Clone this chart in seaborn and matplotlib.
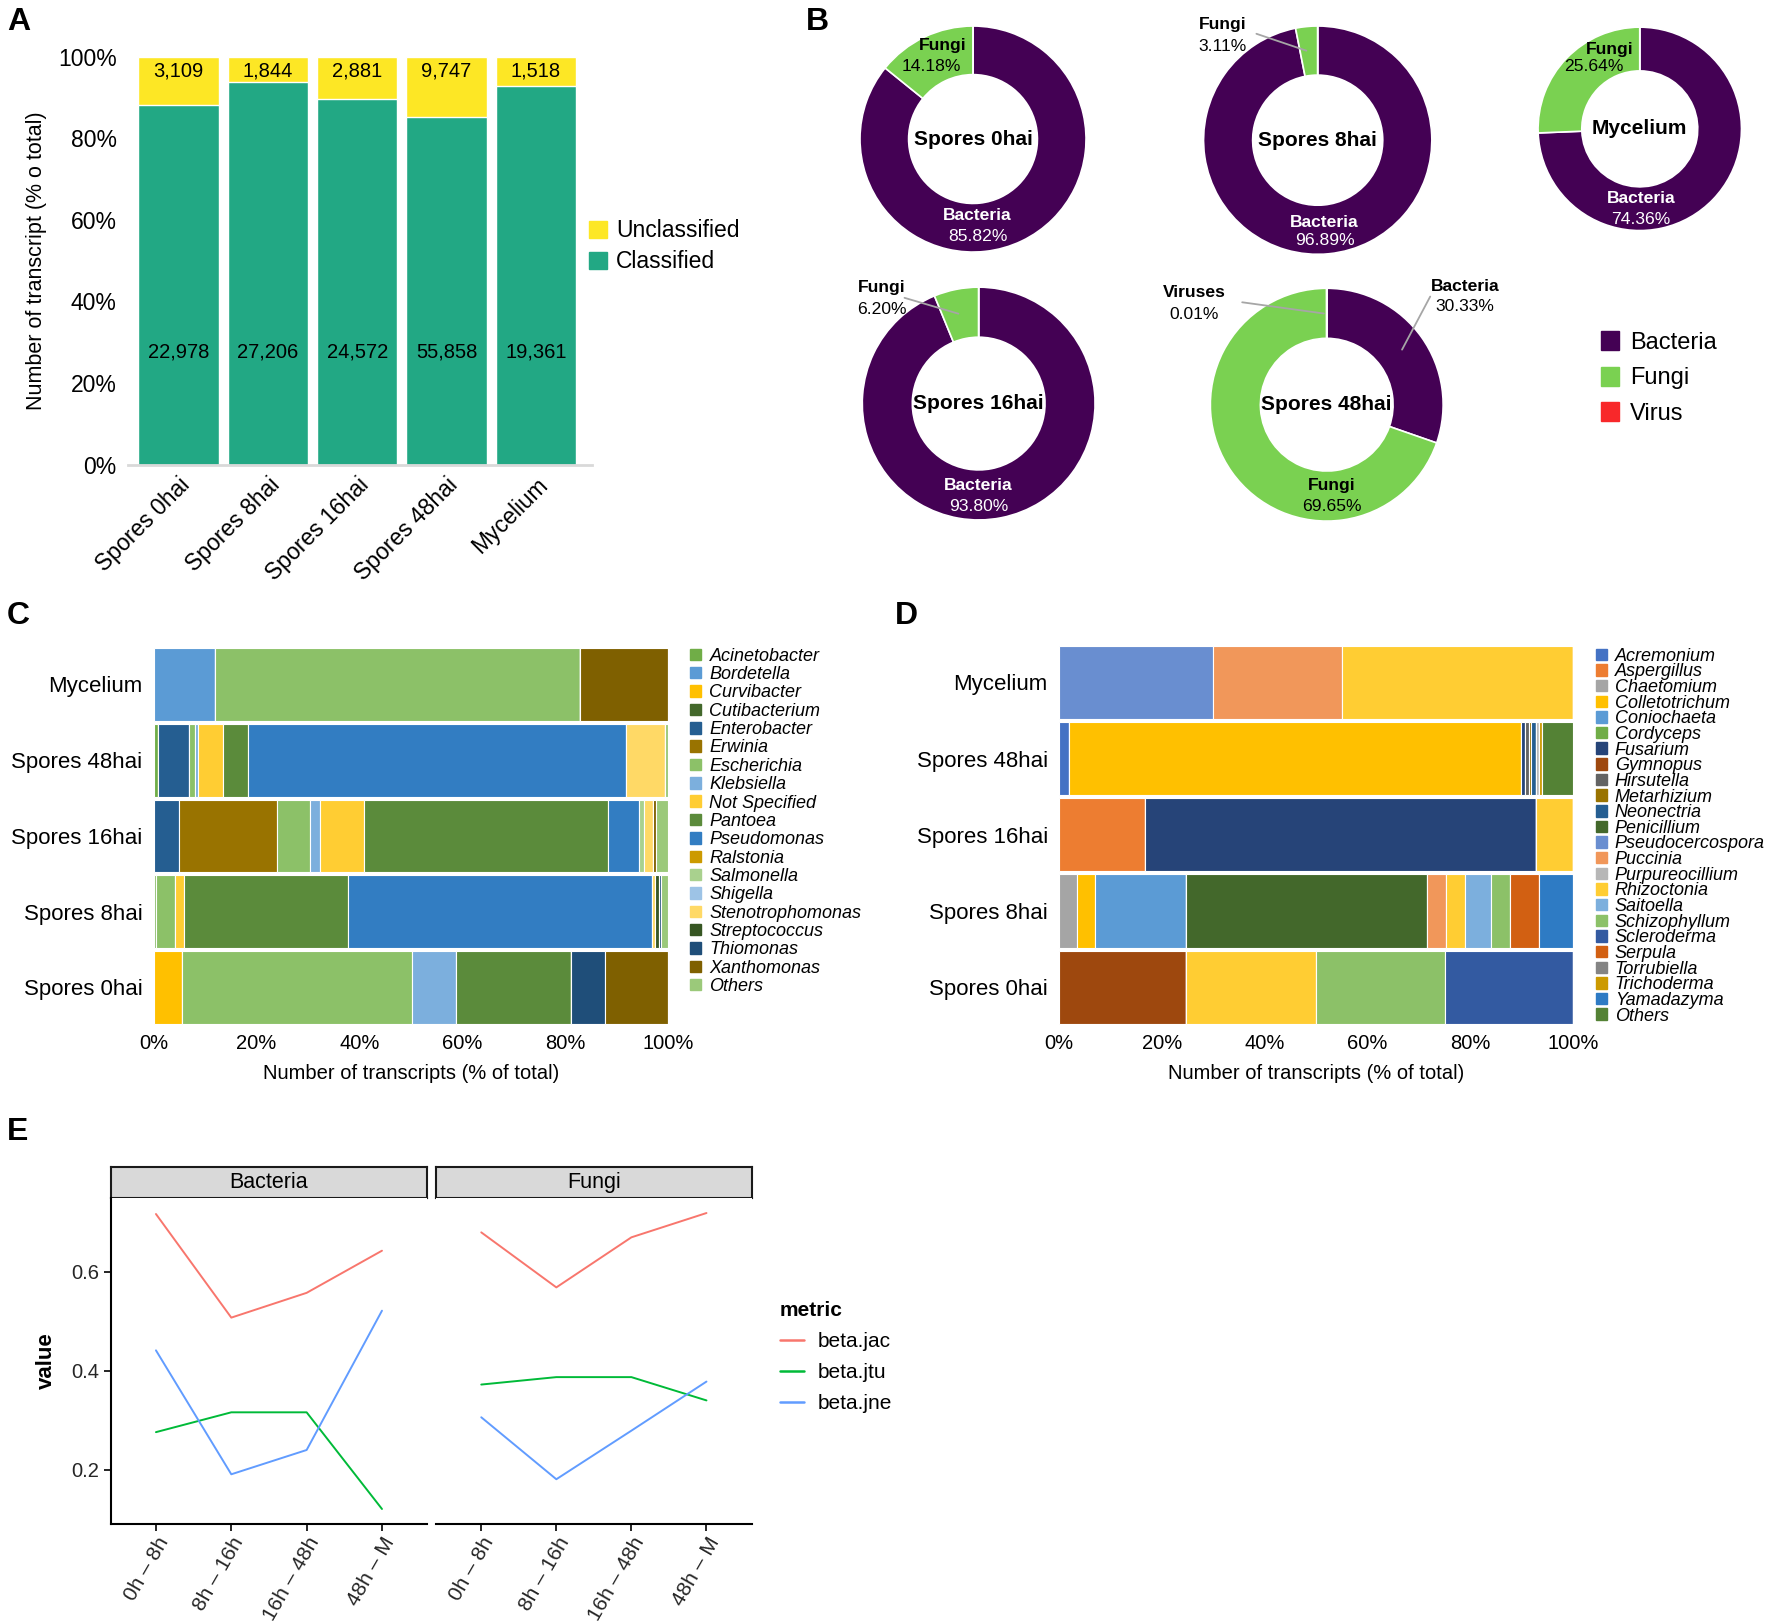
import math
import pandas as pd
import matplotlib
matplotlib.use('Agg')
import matplotlib.pyplot as plt
from matplotlib.patches import Patch
from matplotlib.lines import Line2D
from matplotlib.ticker import PercentFormatter
import seaborn as sns

# ---------------- data ----------------
# A: classified / unclassified transcripts
samples = ['Spores 0hai', 'Spores 8hai', 'Spores 16hai', 'Spores 48hai', 'Mycelium']
classified = [22978, 27206, 24572, 55858, 19361]
unclassified = [3109, 1844, 2881, 9747, 1518]

# B: kingdom share per sample (%)
donut_names = ['Spores 0hai', 'Spores 8hai', 'Mycelium', 'Spores 16hai', 'Spores 48hai']
bacteria_pct = [85.82, 96.89, 74.36, 93.80, 30.33]
fungi_pct = [14.18, 3.11, 25.64, 6.20, 69.65]
virus_pct = [0.0, 0.0, 0.0, 0.0, 0.01]

# C: bacterial genera (% of transcripts)
bact_genera = ['Acinetobacter', 'Bordetella', 'Curvibacter', 'Cutibacterium', 'Enterobacter',
               'Erwinia', 'Escherichia', 'Klebsiella', 'Not Specified', 'Pantoea',
               'Pseudomonas', 'Ralstonia', 'Salmonella', 'Shigella', 'Stenotrophomonas',
               'Streptococcus', 'Thiomonas', 'Xanthomonas', 'Others']
bact_0h = [0, 0, 5.6, 0, 0, 0, 44.7, 8.5, 0, 22.3, 0, 0, 0, 0, 0, 0, 6.6, 12.3, 0]
bact_8h = [0.5, 0, 0, 0, 0, 0, 3.6, 0, 1.8, 31.8, 59.2, 0, 0, 0, 0.6, 0.8, 0.3, 0, 1.4]
bact_16h = [0, 0, 0, 0, 4.9, 19.0, 6.5, 2.0, 8.5, 47.5, 5.9, 0, 1.1, 0, 1.7, 0, 0, 0.6, 2.3]
bact_48h = [0.8, 0, 0, 0, 6.1, 0, 1.1, 0.6, 4.8, 4.9, 73.5, 0, 0, 0, 7.6, 0, 0, 0, 0.6]
bact_myc = [0, 12.0, 0, 0, 0, 0, 70.9, 0, 0, 0, 0, 0, 0, 0, 0, 0, 0, 17.1, 0]
bact_colors = ['#70AD47', '#5B9BD5', '#FFC000', '#43682B', '#255E91', '#997300', '#8CC168',
               '#7CAFDD', '#FFCD33', '#5B8B3B', '#327DC2', '#CC9A00', '#A9D18E', '#9DC3E6',
               '#FFD966', '#375623', '#1F4E79', '#7F6000', '#9BC97A']

# D: fungal genera (% of transcripts)
fungi_genera = ['Acremonium', 'Aspergillus', 'Chaetomium', 'Colletotrichum', 'Coniochaeta',
                'Cordyceps', 'Fusarium', 'Gymnopus', 'Hirsutella', 'Metarhizium', 'Neonectria',
                'Penicillium', 'Pseudocercospora', 'Puccinia', 'Purpureocillium', 'Rhizoctonia',
                'Saitoella', 'Schizophyllum', 'Scleroderma', 'Serpula', 'Torrubiella',
                'Trichoderma', 'Yamadazyma', 'Others']
fungi_0h = [0, 0, 0, 0, 0, 0, 0, 24.8, 0, 0, 0, 0, 0, 0, 0, 25.2, 0, 25.0, 25.0, 0, 0, 0, 0, 0]
fungi_8h = [0, 0, 3.5, 3.6, 17.6, 0, 0, 0, 0, 0, 0, 46.9, 0, 3.6, 0, 3.7, 5.1, 3.7, 0, 5.7, 0, 0, 6.6, 0]
fungi_16h = [0, 16.8, 0, 0, 0, 0, 75.9, 0, 0, 0, 0, 0, 0, 0, 0, 7.3, 0, 0, 0, 0, 0, 0, 0, 0]
fungi_48h = [2.0, 0, 0, 87.9, 0, 0, 0.8, 0, 0.7, 0.5, 0.8, 0, 0, 0, 0.6, 0, 0, 0, 0, 0, 0, 0.7, 0, 6.0]
fungi_myc = [0, 0, 0, 0, 0, 0, 0, 0, 0, 0, 0, 0, 29.9, 25.1, 0, 45.0, 0, 0, 0, 0, 0, 0, 0, 0]
fungi_colors = ['#4472C4', '#ED7D31', '#A5A5A5', '#FFC000', '#5B9BD5', '#70AD47', '#264478',
                '#9E480E', '#636363', '#997300', '#255E91', '#43682B', '#698ED0', '#F1975A',
                '#B7B7B7', '#FFCD33', '#7CAFDD', '#8CC168', '#335AA1', '#D26012', '#848484',
                '#CC9A00', '#2E7BC4', '#548235']

# E: beta diversity between consecutive stages
pairs = ['0h – 8h', '8h – 16h', '16h – 48h', '48h – M']
metrics = ['beta.jac', 'beta.jtu', 'beta.jne']
bact_jac = [0.716, 0.507, 0.557, 0.642]
bact_jtu = [0.276, 0.316, 0.316, 0.121]
bact_jne = [0.441, 0.191, 0.240, 0.521]
fungi_jac = [0.679, 0.568, 0.669, 0.718]
fungi_jtu = [0.372, 0.387, 0.387, 0.340]
fungi_jne = [0.306, 0.181, 0.279, 0.378]
metric_colors = ['#F8766D', '#00BA38', '#619CFF']

# ---------------- style ----------------
sns.set_theme(style='white')
plt.rcParams['font.family'] = ['Liberation Sans', 'DejaVu Sans']
plt.rcParams['text.color'] = 'black'
plt.rcParams['axes.labelcolor'] = 'black'
plt.rcParams['xtick.color'] = 'black'
plt.rcParams['ytick.color'] = 'black'

W, H = 1568, 1434   # layout grid used below (scaled to the real figure)


def rect(x0, y0, x1, y1):
    return [x0 / W, 1 - y1 / H, (x1 - x0) / W, (y1 - y0) / H]


fig = plt.figure(figsize=(17.72, 16.21), dpi=100)
for letter, (lx, ly) in zip('ABCDE', [(6, 6), (713, 6), (6, 532), (792, 532), (6, 988)]):
    fig.text(lx / W, 1 - ly / H, letter, fontsize=23, fontweight='bold', va='top', ha='left')

# ---------------- A ----------------
yellow, teal = '#FDE725', '#22A884'
totals = [c + u for c, u in zip(classified, unclassified)]
class_frac = [c / t for c, t in zip(classified, totals)]
axA = fig.add_axes(rect(113, 50, 524, 411))
sns.barplot(x=samples, y=[1.0] * len(samples), color=yellow, saturation=1, width=0.9, ax=axA)
sns.barplot(x=samples, y=class_frac, color=teal, saturation=1, width=0.9, ax=axA)
for i, (c, u) in enumerate(zip(classified, unclassified)):
    axA.text(i, 0.965, f'{u:,}', ha='center', va='center', fontsize=14.5)
    axA.text(i, 0.277, f'{c:,}', ha='center', va='center', fontsize=14.5)
axA.set_ylim(0, 1)
axA.set_xlim(-0.57, 4.63)
axA.yaxis.set_major_formatter(PercentFormatter(1.0, decimals=0))
axA.set_yticks([0, 0.2, 0.4, 0.6, 0.8, 1.0])
axA.tick_params(axis='y', length=0, labelsize=16.5, pad=8)
axA.tick_params(axis='x', length=0, labelsize=16.5, pad=6)
plt.setp(axA.get_xticklabels(), rotation=45, ha='right', rotation_mode='anchor')
for s in ['top', 'right', 'left']:
    axA.spines[s].set_visible(False)
axA.spines['bottom'].set_color('#D9D9D9')
axA.spines['bottom'].set_linewidth(2)
axA.set_ylabel('Number of transcript (% o total)', fontsize=15.5, labelpad=8)
axA.set_xlabel('')
fig.legend(handles=[Patch(color=yellow, label='Unclassified'), Patch(color=teal, label='Classified')],
           loc='upper left', bbox_to_anchor=(521 / W, 1 - 194 / H), frameon=False, fontsize=16.5,
           handlelength=0.8, handleheight=0.8, handletextpad=0.4, labelspacing=0.35,
           borderpad=0, borderaxespad=0)

# ---------------- B ----------------
kingdom_colors = ['#440154', '#7AD151', '#F8282A']
# centre (x, y), radius; label = (name x, name y, pct x, pct y, colour) in radius units
donut_layout = {
    'Spores 0hai': dict(c=(861, 123), r=100,
                        bact=(0.04, -0.675, 0.04, -0.865, 'white'),
                        fungi=(-0.265, 0.83, -0.37, 0.645, 'black')),
    'Spores 8hai': dict(c=(1166, 124), r=101,
                        bact=(0.06, -0.72, 0.06, -0.88, 'white'),
                        fungi=(-0.83, 1.01, -0.83, 0.825, 'black'), fungi_line=(-0.56, 0.94)),
    'Mycelium': dict(c=(1451, 114), r=90,
                     bact=(0.01, -0.68, 0.01, -0.89, 'white'),
                     fungi=(-0.30, 0.78, -0.455, 0.61, 'black')),
    'Spores 16hai': dict(c=(866, 357), r=103,
                         bact=(0.0, -0.70, 0.0, -0.885, 'white'),
                         fungi=(-0.835, 1.0, -0.835, 0.81, 'black'), fungi_line=(-0.66, 0.915)),
    'Spores 48hai': dict(c=(1174, 358), r=103,
                         bact=(1.19, 1.017, 1.19, 0.847, 'black'), bact_line=(0.90, 0.95),
                         fungi=(0.04, -0.69, 0.04, -0.875, 'black'),
                         virus=(-1.136, 0.962, -1.136, 0.778, 'black'), virus_line=(-0.75, 0.883)),
}
ring_mid = 0.78
for name, b, f, v in zip(donut_names, bacteria_pct, fungi_pct, virus_pct):
    lay = donut_layout[name]
    cx, cy = lay['c']
    r = lay['r']
    ax = fig.add_axes(rect(cx - r, cy - r, cx + r, cy + r))
    vals = [b, f, v]
    ax.pie(vals, colors=kingdom_colors, startangle=90, counterclock=False, radius=1,
           wedgeprops=dict(width=0.43, edgecolor='white', linewidth=1.2))
    ax.set_xlim(-1, 1)
    ax.set_ylim(-1, 1)
    ax.text(0, 0, name, ha='center', va='center', fontsize=15, fontweight='bold')
    # mid angle of each wedge, from the data
    cum = 0
    mids = []
    for val in vals:
        mids.append(90 - 3.6 * (cum + val / 2))
        cum += val
    for key, title, val, mid in [('bact', 'Bacteria', b, mids[0]), ('fungi', 'Fungi', f, mids[1]),
                                 ('virus', 'Viruses', v, mids[2])]:
        if key not in lay:
            continue
        nx, ny, px, py, tc = lay[key]
        ax.text(nx, ny, title, ha='center', va='center', fontsize=12.6, fontweight='bold', color=tc,
                clip_on=False)
        ax.text(px, py, f'{val:.2f}%', ha='center', va='center', fontsize=12.6, color=tc,
                clip_on=False)
        if key + '_line' in lay:
            mx = ring_mid * math.cos(math.radians(mid))
            my = ring_mid * math.sin(math.radians(mid))
            ax.annotate('', xy=(mx, my), xytext=lay[key + '_line'],
                        arrowprops=dict(arrowstyle='-', color='#A6A6A6', lw=1.3), annotation_clip=False)

fig.legend(handles=[Patch(color=c, label=l) for c, l in zip(kingdom_colors, ['Bacteria', 'Fungi', 'Virus'])],
           loc='upper left', bbox_to_anchor=(1417 / W, 1 - 293 / H), frameon=False, fontsize=17,
           handlelength=0.75, handleheight=0.85, handletextpad=0.45, labelspacing=0.55,
           borderpad=0, borderaxespad=0)


# ---------------- C & D ----------------
def long_table(genera, rows):
    recs = []
    for s, vals in zip(samples, rows):
        for g, val in zip(genera, vals):
            if val > 0:
                recs.append((s, g, val))
    return pd.DataFrame(recs, columns=['sample', 'genus', 'pct'])


def stacked_panel(box, genera, rows, colors, legend_anchor, legend_spacing):
    ax = fig.add_axes(rect(*box))
    df = long_table(genera, rows)
    sns.histplot(data=df, y='sample', hue='genus', weights='pct', multiple='fill', discrete=True,
                 shrink=0.96, hue_order=genera[::-1], palette=dict(zip(genera, colors)),
                 edgecolor='white', linewidth=0.8, alpha=1, legend=False, ax=ax)
    ax.set_xlim(0, 1)
    ax.set_ylim(-0.5, 4.5)
    ax.set_yticks(range(len(samples)))
    ax.set_yticklabels(samples)
    ax.set_xticks([0, 0.2, 0.4, 0.6, 0.8, 1.0])
    ax.xaxis.set_major_formatter(PercentFormatter(1.0, decimals=0))
    ax.tick_params(axis='y', length=0, labelsize=16, pad=8)
    ax.tick_params(axis='x', length=0, labelsize=14.5, pad=6)
    sns.despine(ax=ax, left=True, bottom=True)
    ax.set_ylabel('')
    ax.set_xlabel('Number of transcripts (% of total)', fontsize=14.5, labelpad=8)
    fig.legend(handles=[Patch(color=c, label=g) for g, c in zip(genera, colors)],
               loc='upper left', bbox_to_anchor=legend_anchor, frameon=False,
               prop=dict(size=13, style='italic'), handlelength=0.6, handleheight=0.6,
               handletextpad=0.45, labelspacing=legend_spacing, borderpad=0, borderaxespad=0)
    return ax


stacked_panel((136, 572, 591, 907), bact_genera, [bact_0h, bact_8h, bact_16h, bact_48h, bact_myc],
              bact_colors, (611 / W, 1 - 573 / H), 0.075)
stacked_panel((937, 570, 1392, 907), fungi_genera, [fungi_0h, fungi_8h, fungi_16h, fungi_48h, fungi_myc],
              fungi_colors, (1412 / W, 1 - 573 / H), -0.075)

# ---------------- E ----------------
all_beta = bact_jac + bact_jtu + bact_jne + fungi_jac + fungi_jtu + fungi_jne
lo, hi = min(all_beta), max(all_beta)
pad = (hi - lo) * 0.05
palette_e = dict(zip(metrics, metric_colors))

for i, (title, jac, jtu, jne, box) in enumerate([
        ('Bacteria', bact_jac, bact_jtu, bact_jne, (98, 378)),
        ('Fungi', fungi_jac, fungi_jtu, fungi_jne, (386, 665))]):
    x0, x1 = box
    strip = fig.add_axes(rect(x0, 1032, x1, 1060))
    strip.set_facecolor('#D9D9D9')
    strip.set_xticks([])
    strip.set_yticks([])
    for s in strip.spines.values():
        s.set_visible(True)
        s.set_color('#1A1A1A')
        s.set_linewidth(1.5)
    strip.text(0.5, 0.5, title, ha='center', va='center', fontsize=15.5, transform=strip.transAxes)

    ax = fig.add_axes(rect(x0, 1060, x1, 1348))
    df = pd.DataFrame({'pair': pairs * 3, 'value': jac + jtu + jne,
                       'metric': [m for m in metrics for _ in pairs]})
    sns.lineplot(data=df, x='pair', y='value', hue='metric', hue_order=metrics, palette=palette_e,
                 sort=False, linewidth=1.4, legend=False, ax=ax)
    ax.set_xlim(-0.6, 3.6)
    ax.set_ylim(lo - pad, hi + pad)
    ax.set_yticks([0.2, 0.4, 0.6])
    ax.set_xlabel('')
    for s in ['top', 'right']:
        ax.spines[s].set_visible(False)
    ax.spines['bottom'].set_color('black')
    ax.spines['bottom'].set_linewidth(1.5)
    ax.tick_params(axis='x', length=5, width=1.2, labelsize=15, pad=2, bottom=True,
                   labelcolor='#262626')
    plt.setp(ax.get_xticklabels(), rotation=60, ha='right', rotation_mode='anchor')
    if i == 0:
        ax.spines['left'].set_color('black')
        ax.spines['left'].set_linewidth(1.5)
        ax.tick_params(axis='y', length=5, width=1.2, labelsize=14.5, left=True, labelcolor='#262626')
        ax.set_ylabel('value', fontsize=16, fontweight='bold', labelpad=10)
    else:
        ax.spines['left'].set_visible(False)
        ax.tick_params(axis='y', left=False, labelleft=False)
        ax.set_ylabel('')

fig.legend(handles=[Line2D([], [], color=c, lw=1.8, label=m) for m, c in zip(metrics, metric_colors)],
           title='metric', loc='upper left', bbox_to_anchor=(690 / W, 1 - 1151 / H), frameon=False,
           fontsize=15, title_fontproperties=dict(weight='bold', size=15), alignment='left',
           handlelength=1.15, handletextpad=0.65, labelspacing=0.58, borderpad=0, borderaxespad=0)

fig.savefig('out.png', dpi=100)
